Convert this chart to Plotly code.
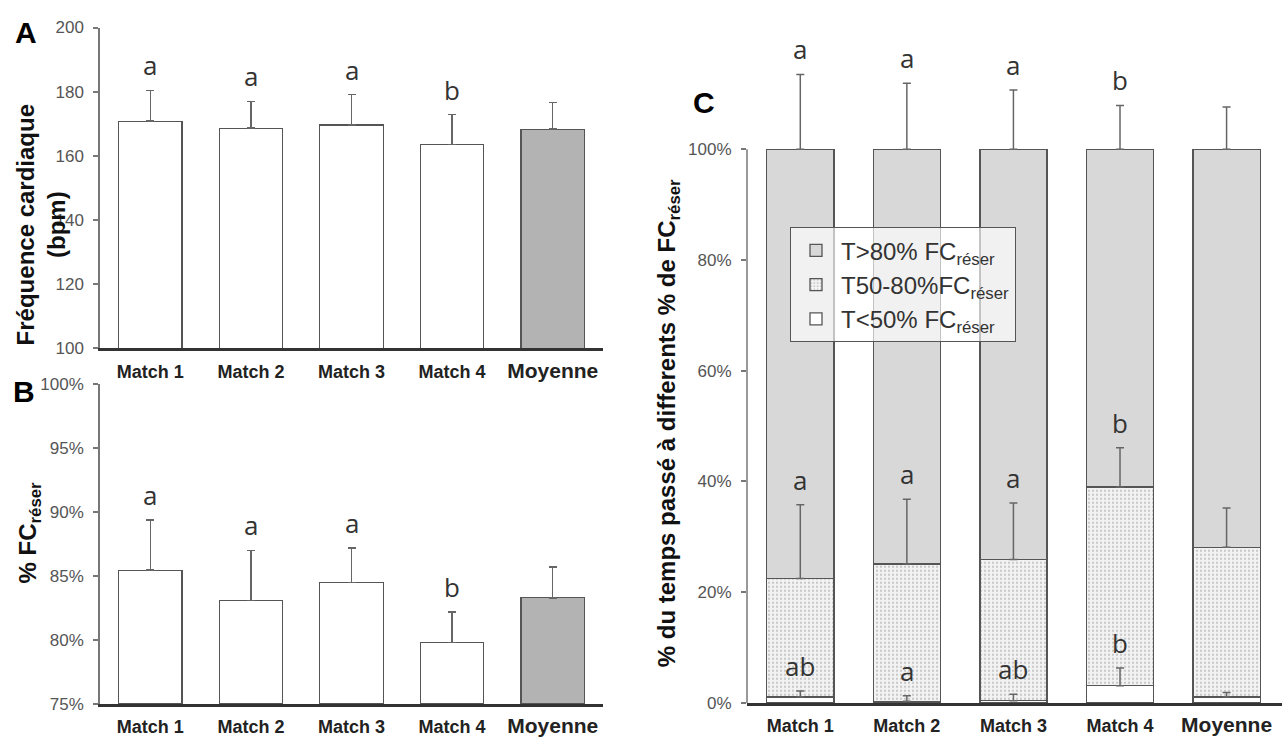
import plotly.graph_objects as go

# ---------------- data ----------------
categories = ["Match 1", "Match 2", "Match 3", "Match 4", "Moyenne"]

# Panel A : heart rate (bpm)
hr_mean = [170.8, 168.6, 169.6, 163.5, 168.3]
hr_sd = [9.6, 8.4, 9.5, 9.3, 8.3]
hr_letters = ["a", "a", "a", "b", ""]

# Panel B : % FC reserve
res_mean = [85.46, 83.1, 84.5, 79.8, 83.3]
res_sd = [3.94, 3.9, 2.7, 2.4, 2.4]
res_letters = ["a", "a", "a", "b", ""]

# Panel C : % of time in zones (stacked)
t_low = [1.06, 0.3, 0.4, 3.1, 1.06]
t_low_sd = [1.1, 1.0, 1.2, 3.2, 0.85]
t_low_letters = ["ab", "a", "ab", "b", ""]

t_mid = [21.44, 24.8, 25.5, 35.9, 27.04]
t_mid_sd = [13.3, 11.7, 10.2, 7.1, 7.1]
t_mid_letters = ["a", "a", "a", "b", ""]

t_high = [77.5, 74.9, 74.1, 61.0, 71.9]
t_high_sd = [13.5, 11.9, 10.7, 7.9, 7.6]
t_high_letters = ["a", "a", "a", "b", ""]

zone_names = ["T&lt;50% FC<sub>réser</sub>", "T50-80%FC<sub>réser</sub>", "T&gt;80% FC<sub>réser</sub>"]
c_ticks = [0, 20, 40, 60, 80, 100]
c_ticktext = [f"{v}%" for v in c_ticks]

# ---------------- style ----------------
FONT = "Arial, Liberation Sans, sans-serif"
LETTER_FONT = dict(family="Open Sans, sans-serif", size=26, color="#333")
OUTLINE = dict(color="#555", width=1.3)
ERR = dict(color="#666", thickness=1.5, width=4)
avg_color = "#b3b3b3"
bar_colors = [avg_color if c == "Moyenne" else "white" for c in categories]
ticktext = [f'<span style="font-size:21px">{c}</span>' if c == "Moyenne" else c for c in categories]

fig = go.Figure()

# Panel A
fig.add_trace(go.Bar(
    x=categories, y=[m - 100 for m in hr_mean], base=100, xaxis="x", yaxis="y",
    marker=dict(color=bar_colors, line=OUTLINE), showlegend=False,
    error_y=dict(type="data", symmetric=False, array=hr_sd, arrayminus=[0] * 5, **ERR)))

# Panel B
fig.add_trace(go.Bar(
    x=categories, y=[m - 75 for m in res_mean], base=75, xaxis="x2", yaxis="y2",
    marker=dict(color=bar_colors, line=OUTLINE), showlegend=False,
    error_y=dict(type="data", symmetric=False, array=res_sd, arrayminus=[0] * 5, **ERR)))

# Panel C stacked bars
fig.add_trace(go.Bar(
    x=categories, y=t_low, xaxis="x3", yaxis="y3", name=zone_names[0],
    marker=dict(color="white", line=OUTLINE)))
fig.add_trace(go.Bar(
    x=categories, y=t_mid, xaxis="x3", yaxis="y3", name=zone_names[1],
    marker=dict(color="#f3f3f3", line=OUTLINE,
                pattern=dict(shape=".", fgcolor="#9a9a9a", bgcolor="#f3f3f3", size=4, solidity=0.25))))
fig.add_trace(go.Bar(
    x=categories, y=t_high, xaxis="x3", yaxis="y3", name=zone_names[2],
    marker=dict(color="#d8d8d8", line=OUTLINE)))

# error bars at the top of each stacked segment
cum_low = list(t_low)
cum_mid = [a + b for a, b in zip(t_low, t_mid)]
cum_high = [a + b + c for a, b, c in zip(t_low, t_mid, t_high)]
for tops, sds in [(cum_low, t_low_sd), (cum_mid, t_mid_sd), (cum_high, t_high_sd)]:
    fig.add_trace(go.Scatter(
        x=categories, y=tops, xaxis="x3", yaxis="y3", mode="markers",
        marker=dict(size=1, opacity=0), showlegend=False, hoverinfo="skip",
        error_y=dict(type="data", symmetric=False, array=sds, arrayminus=[0] * 5, **ERR)))

# ---------------- letters ----------------
annotations = []
def add_letters(letters, tops, sds, xr, yr):
    for c, l, t, s in zip(categories, letters, tops, sds):
        if l:
            annotations.append(dict(x=c, y=t + s, xref=xr, yref=yr, text=l, showarrow=False,
                                    yanchor="middle", yshift=25, font=LETTER_FONT))

add_letters(hr_letters, hr_mean, hr_sd, "x", "y")
add_letters(res_letters, res_mean, res_sd, "x2", "y2")
add_letters(t_low_letters, cum_low, t_low_sd, "x3", "y3")
add_letters(t_mid_letters, cum_mid, t_mid_sd, "x3", "y3")
add_letters(t_high_letters, cum_high, t_high_sd, "x3", "y3")

W, H = 1283, 751
def px(x):
    return x / W
def py(y):
    return 1 - y / H

TITLE_FONT = dict(family=FONT, size=24, color="#111", weight="bold")
PANEL_FONT = dict(family=FONT, size=30, color="#000", weight="bold")
annotations += [
    dict(text="Fréquence cardiaque<br>(bpm)", x=px(41), y=py(222), xref="paper", yref="paper",
         textangle=-90, showarrow=False, xanchor="center", yanchor="middle", font=TITLE_FONT),
    dict(text="% FC<sub>réser</sub>", x=px(29), y=py(537), xref="paper", yref="paper",
         textangle=-90, showarrow=False, xanchor="center", yanchor="middle", font=TITLE_FONT),
    dict(text="% du temps passé à differents % de FC<sub>réser</sub>", x=px(668), y=py(425),
         xref="paper", yref="paper", textangle=-90, showarrow=False,
         xanchor="center", yanchor="middle", font=TITLE_FONT),
    dict(text="A", x=px(26), y=py(24), xref="paper", yref="paper", showarrow=False,
         xanchor="center", yanchor="middle", font=PANEL_FONT),
    dict(text="B", x=px(24), y=py(392), xref="paper", yref="paper", showarrow=False,
         xanchor="center", yanchor="middle", font=PANEL_FONT),
    dict(text="C", x=px(704), y=py(96), xref="paper", yref="paper", showarrow=False,
         xanchor="center", yanchor="middle", font=PANEL_FONT),
]

# ---------------- axes ----------------
xcommon = dict(type="category", showline=True, linecolor="#333", linewidth=2.5, ticks="",
               showgrid=False, zeroline=False, tickvals=categories, ticktext=ticktext,
               ticklabelstandoff=5,
               tickfont=dict(family=FONT, size=18, color="#222", weight="bold"))
ycommon = dict(showline=True, linecolor="#777", linewidth=1.5, ticks="outside", ticklen=5,
               tickcolor="#777", tickwidth=1.5, showgrid=False, zeroline=False,
               tickfont=dict(family=FONT, size=17, color="#555"), ticklabelstandoff=6)

fig.update_layout(
    width=W, height=H, margin=dict(l=0, r=0, t=0, b=0),
    paper_bgcolor="white", plot_bgcolor="white",
    barmode="stack", bargap=0.37,
    font=dict(family=FONT),
    xaxis=dict(domain=[px(100), px(603)], anchor="y", **xcommon),
    yaxis=dict(domain=[py(348), py(19)], anchor="x", range=[100, 200], dtick=20, **ycommon),
    xaxis2=dict(domain=[px(100), px(603)], anchor="y2", **xcommon),
    yaxis2=dict(domain=[py(713), py(385)], anchor="x2", range=[75, 100], dtick=5,
                ticksuffix="%", **ycommon),
    xaxis3=dict(domain=[px(747), px(1282)], anchor="y3", range=[-0.5, 4.52], **xcommon),
    yaxis3=dict(domain=[py(712), py(8)], anchor="x3", range=[0, 123.9],
                tickvals=c_ticks, ticktext=c_ticktext, **{**ycommon, "showline": False}),
    legend=dict(x=px(790), y=py(224), xanchor="left", yanchor="top",
                bgcolor="rgba(255,255,255,0.65)", bordercolor="#555", borderwidth=1,
                font=dict(family=FONT, size=24, color="#333"), traceorder="reversed",
                tracegroupgap=0, itemwidth=40),
    annotations=annotations,
    shapes=[dict(type="line", xref="x3 domain", yref="y3", x0=0, x1=0, y0=0, y1=100,
                 line=dict(color="#777", width=1.5))],
)

fig.write_html("out.html")
